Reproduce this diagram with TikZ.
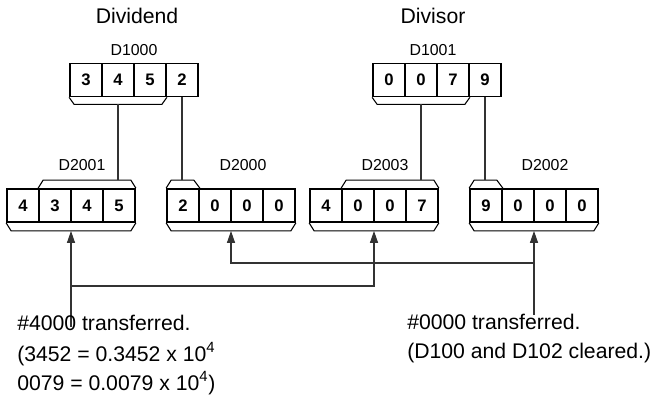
\documentclass[tikz,border=0pt]{standalone}
\usepackage{fontspec}
\setmainfont{Liberation Sans}
\usetikzlibrary{arrows.meta,calc}

\begin{document}
\begin{tikzpicture}[
    x=0.75pt, y=-0.75pt,
    cell/.style={draw,line width=1.3pt,minimum width=24pt,minimum height=24.75pt,
                 inner sep=0pt,font=\fontsize{12.5}{14}\selectfont\bfseries},
    regname/.style={font=\fontsize{11.9}{14}\selectfont},
    title/.style={font=\fontsize{15.9}{19}\selectfont},
    note/.style={anchor=base west,inner sep=0pt,font=\fontsize{15.9}{19}\selectfont},
    brk/.style={line width=0.8pt},
    conn/.style={line width=0.8pt,black!80},
    arr/.style={conn,-{Triangle[length=9pt,width=6pt]}}]

    \useasboundingbox (0,0) rectangle (656,397);

    % Source registers
    \node[title] (dividend) at (137,16) {Dividend};
    \node[title] (divisor)  at (433,16) {Divisor};
    \node[regname] (l1000) at (134,50) {D1000};
    \node[regname] (l1001) at (433,50) {D1001};
    \foreach \d [count=\i] in {3,4,5,2}
      \node[cell] (r1000-\i) at (54+32*\i,80) {\d};
    \foreach \d [count=\i] in {0,0,7,9}
      \node[cell] (r1001-\i) at (357+32*\i,80) {\d};
    \draw[brk] (r1000-1.south west) -- ++(5,7)
      -- ($(r1000-3.south east)+(-5,7)$) -- (r1000-3.south east);
    \draw[brk] (r1001-1.south west) -- ++(5,7)
      -- ($(r1001-3.south east)+(-5,7)$) -- (r1001-3.south east);

    % Result registers
    \node[regname] (l2001) at (82,165)  {D2001};
    \node[regname] (l2000) at (243,165) {D2000};
    \node[regname] (l2003) at (385,165) {D2003};
    \node[regname] (l2002) at (545,165) {D2002};
    \foreach \d [count=\i] in {4,3,4,5}
      \node[cell] (r2001-\i) at (-9+32*\i,205.5) {\d};
    \foreach \d [count=\i] in {2,0,0,0}
      \node[cell] (r2000-\i) at (151+32*\i,205.5) {\d};
    \foreach \d [count=\i] in {4,0,0,7}
      \node[cell] (r2003-\i) at (294+32*\i,205.5) {\d};
    \foreach \d [count=\i] in {9,0,0,0}
      \node[cell] (r2002-\i) at (454+32*\i,205.5) {\d};

    % brackets above
    \draw[brk] (r2001-2.north west) -- ++(5,-8)
      -- ($(r2001-4.north east)+(-5,-8)$) -- (r2001-4.north east);
    \draw[brk] (r2000-1.north west) -- ++(5,-8)
      -- ($(r2000-1.north east)+(-6,-8)$) -- (r2000-1.north east);
    \draw[brk] (r2003-2.north west) -- ++(5,-8)
      -- ($(r2003-4.north east)+(-5,-8)$) -- (r2003-4.north east);
    \draw[brk] (r2002-1.north west) -- ++(5,-8)
      -- ($(r2002-1.north east)+(-6,-8)$) -- (r2002-1.north east);
    % brackets below
    \foreach \r in {2001,2000,2003,2002}
      \draw[brk] (r\r-1.south west) -- ++(5,8)
        -- ($(r\r-4.south east)+(-5,8)$) -- (r\r-4.south east);

    \coordinate (b1000) at ($(r1000-1.south)!.5!(r1000-3.south)+(0,7)$);
    \coordinate (b1001) at ($(r1001-1.south)!.5!(r1001-3.south)+(0,7)$);
    \coordinate (t2001) at ($(r2001-2.north)!.5!(r2001-4.north)+(0,-8)$);
    \coordinate (t2000) at ($(r2000-1.north)+(0,-8)$);
    \coordinate (t2003) at ($(r2003-2.north)!.5!(r2003-4.north)+(0,-8)$);
    \coordinate (t2002) at ($(r2002-1.north)+(0,-8)$);
    \draw[conn] (b1000) -- (b1000 |- t2001);
    \draw[conn] (r1000-4.south) -- (r1000-4.south |- t2000);
    \draw[conn] (b1001) -- (b1001 |- t2003);
    \draw[conn] (r1001-4.south) -- (r1001-4.south |- t2002);

    % Transfers
    \foreach \r in {2001,2000,2003,2002}
      \coordinate (u\r) at ($(r\r-1.south west)!.5!(r\r-4.south east)+(0,8)$);
    \coordinate (s4000) at (u2001 |- 0,327);
    \coordinate (j4000) at (u2001 |- 0,286);
    \coordinate (s0000) at (u2002 |- 0,315);
    \coordinate (j0000) at (u2002 |- 0,263);
    \draw[arr] (s4000) -- (u2001);
    \draw[arr] (j4000) -| (u2003);
    \draw[arr] (s0000) -- (u2002);
    \draw[arr] (j0000) -| (u2000);

    \node[note] (n4000) at (17,330) {\#4000 transferred.};
    \node[note] (n4000a) at (17,361) {(3452 = 0.3452 x 10\textsuperscript{4}};
    \node[note] (n4000b) at (17,390) {0079 = 0.0079 x 10\textsuperscript{4})};
    \node[note] (n0000) at (407,329) {\#0000 transferred.};
    \node[note] (n0000a) at (407,358) {(D100 and D102 cleared.)};
\end{tikzpicture}
\end{document}
